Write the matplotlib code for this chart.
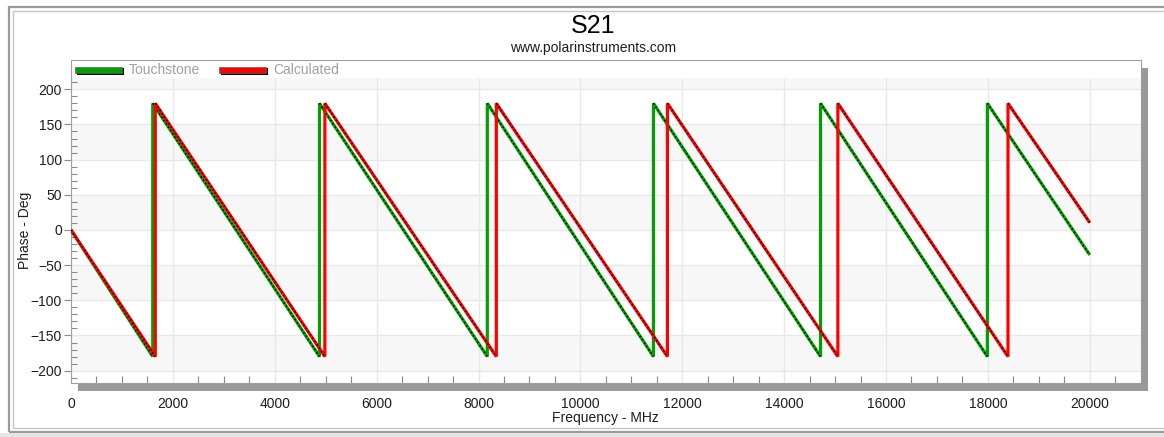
import numpy as np
import matplotlib
matplotlib.use("Agg")
import matplotlib.pyplot as plt
from matplotlib.patches import Rectangle

plt.rcParams['font.family'] = ['Liberation Sans', 'DejaVu Sans']

# S21 phase (deg) versus frequency (MHz); vertices of each wrapped phase trace
touch_freq = [0, 1605, 1605, 4878, 4878, 8173, 8173, 11434, 11434,
              14715, 14715, 17990, 17990, 20000]
touch_phase = [0, -180, 180, -180, 180, -180, 180, -180, 180,
               -180, 180, -180, 180, -35.5]

calc_freq = [0, 1655, 1655, 4984, 4984, 8350, 8350, 11709, 11709,
             15055, 15055, 18395, 18395, 20000]
calc_phase = [0, -180, 180, -180, 180, -180, 180, -180, 180,
              -180, 180, -180, 180, 10.4]

series_names = ["Touchstone", "Calculated"]
series_colors = ["#00a000", "#ff0000"]

x_major = list(range(0, 20001, 2000))
y_major = list(range(-200, 201, 50))

W, H = 1164, 437
fig = plt.figure(figsize=(W / 100, H / 100), dpi=100)
fig.patch.set_facecolor("white")


def fx(px):
    return px / W


def fy(py):
    return 1 - py / H


def fig_rect(x0, y0, x1, y1, **kw):
    r = Rectangle((fx(x0), fy(y1)), fx(x1) - fx(x0), fy(y0) - fy(y1),
                  transform=fig.transFigure, **kw)
    fig.add_artist(r)
    return r


# panel border
fig_rect(9, 7, 1185, 432, fill=False, edgecolor="#9a9a9a", lw=1.6)
fig_rect(13, 11, 1181, 428, fill=False, edgecolor="#c4c4c4", lw=1.0)
fig_rect(0, 432.5, W, H, facecolor="#e4e4e4", edgecolor="none")

# drop shadow of the plot frame
fig_rect(1141, 67.5, 1148, 391, facecolor="#999999", edgecolor="none")
fig_rect(78, 383.5, 1148, 391, facecolor="#999999", edgecolor="none")

ax_l, ax_t, ax_r, ax_b = 71, 60.3, 1140.7, 383.3
ax = fig.add_axes([fx(ax_l), fy(ax_b), fx(ax_r) - fx(ax_l), fy(ax_t) - fy(ax_b)])
ax.set_facecolor("white")
ax.set_xlim(0, 21000)
ax.set_ylim(-218, 241.2)

# alternating horizontal bands and grid
band_top = 216.5
for lo, hi in [(100, 150), (0, 50), (-100, -50), (-200, -150), (200, band_top)]:
    ax.axhspan(lo, hi, facecolor="#f7f7f7", edgecolor="none", zorder=0)
for v in y_major:
    ax.axhline(v, color="#e8e8e8", lw=1.0, zorder=0.5)
ax.vlines(x_major, -218, band_top, color="#e8e8e8", lw=1.0, zorder=0.5)


def draw_trace(freq, phase, color, z):
    ax.plot(freq, phase, color=color, lw=2.3, zorder=z,
            solid_capstyle="butt", solid_joinstyle="miter")
    for i in range(len(freq) - 1):
        if freq[i + 1] != freq[i]:
            ax.plot(freq[i:i + 2], phase[i:i + 2], color="black", lw=1.1,
                    ls=(0, (1.0, 1.6)), zorder=z + 0.1)


draw_trace(touch_freq, touch_phase, series_colors[0], 3)
draw_trace(calc_freq, calc_phase, series_colors[1], 4)

for s in ax.spines.values():
    s.set_color("#a0a0a0")
    s.set_linewidth(0.8)

ax.set_xticks(x_major)
ax.set_xticks(np.arange(0, 21000, 500), minor=True)
ax.set_yticks(y_major)
ax.set_yticks(np.arange(-210, 211, 10), minor=True)

tick_col = "#1e1e1e"
ax.tick_params(axis="x", which="major", length=0, pad=9.6,
               labelsize=10, labelcolor=tick_col)
ax.tick_params(axis="x", which="minor", direction="in", length=5,
               color="#8a8a8a", width=0.8)
ax.tick_params(axis="y", which="major", direction="out", length=5,
               color="#8a8a8a", width=0.8, pad=1.6, labelsize=10,
               labelcolor=tick_col)
ax.tick_params(axis="y", which="minor", direction="in", length=4.3,
               color="#8a8a8a", width=0.8)

# titles and axis labels
fig.text(fx(593), fy(33.3), "S21", ha="center", va="baseline",
         fontsize=18, color="black")
fig.text(fx(593), fy(52), "www.polarinstruments.com", ha="center",
         va="baseline", fontsize=10, color="#1e1e1e")
fig.text(fx(605), fy(418.3), "Frequency - MHz", ha="center", va="center",
         fontsize=10, color=tick_col)
fig.text(fx(25), fy(230), "Phase - Deg", ha="center", va="center",
         rotation=90, fontsize=10, color=tick_col)

# legend
legend_items = [(75, 129, series_names[0], series_colors[0]),
                (219, 273, series_names[1], series_colors[1])]
for sx, tx, name, col in legend_items:
    fig_rect(sx + 2, 68.5, sx + 48.5, 75.2, facecolor="black", edgecolor="none")
    fig_rect(sx, 66.7, sx + 46.7, 73.3, facecolor=col, edgecolor="#606060", lw=0.5)
    fig.text(fx(tx), fy(70.3), name, ha="left", va="center", fontsize=10,
             color="#a0a0a0")

fig.savefig("out.png", dpi=100)
